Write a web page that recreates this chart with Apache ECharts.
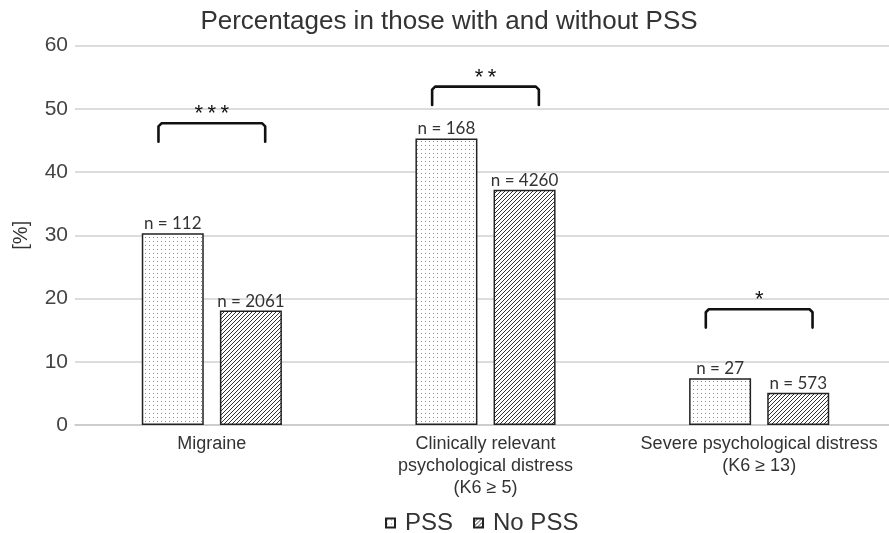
<!DOCTYPE html>
<html><head><meta charset="utf-8">
<script src="https://cdn.jsdelivr.net/npm/echarts@6/dist/echarts.min.js"></script>
<style>html,body{margin:0;padding:0;background:#fff;overflow:hidden}#c{width:900px;height:533px}</style>
</head><body><div id="c"></div>
<script>
const categories = ['Migraine', 'Clinically relevant\npsychological distress\n(K6 ≥ 5)', 'Severe psychological distress\n(K6 ≥ 13)'];
const pssValues = [30.3, 45.3, 7.4];
const noPssValues = [18.1, 37.2, 5.1];
const pssN = [112, 168, 27];
const noPssN = [2061, 4260, 573];
const bracketTops = [47.7, 53.5, 18.3];
const bracketStars = ['***', '**', '*'];
const yTicks = [0, 10, 20, 30, 40, 50, 60];

function dotPattern() {
  const c = document.createElement('canvas'); c.width = 4; c.height = 4;
  const g = c.getContext('2d'); g.fillStyle = '#fff'; g.fillRect(0, 0, 4, 4);
  g.fillStyle = '#8a8a8a'; g.fillRect(1, 1, 1, 1);
  return c;
}
function hatchPattern() {
  const c = document.createElement('canvas'); c.width = 4; c.height = 4;
  const g = c.getContext('2d'); g.fillStyle = '#fff'; g.fillRect(0, 0, 4, 4);
  g.strokeStyle = '#333'; g.lineWidth = 1;
  g.beginPath();
  g.moveTo(-1, 5); g.lineTo(5, -1);
  g.moveTo(-1, 1); g.lineTo(1, -1);
  g.moveTo(3, 5); g.lineTo(5, 3);
  g.stroke();
  return c;
}
const dotFill = { image: dotPattern(), repeat: 'repeat' };
const hatchFill = { image: hatchPattern(), repeat: 'repeat' };
const ARIAL = '"Liberation Sans", Arial, sans-serif';

const chart = echarts.init(document.getElementById('c'), null, { renderer: 'canvas' });
const labelFont = { show: true, position: 'top', distance: 1, color: '#333', fontSize: 17, fontFamily: 'Lato, "Open Sans", sans-serif' };

chart.setOption({
  animation: false,
  backgroundColor: '#fff',
  title: {
    text: 'Percentages in those with and without PSS', left: 444, textAlign: 'center', top: 4,
    textStyle: { fontFamily: ARIAL, fontSize: 26, fontWeight: 'normal', color: '#333' }
  },
  legend: {
    top: 506, left: 380, itemWidth: 9, itemHeight: 9, itemGap: 20, icon: 'rect',
    textStyle: { fontFamily: ARIAL, fontSize: 24, color: '#333', padding: [0, 0, 0, 5] },
    data: ['PSS', 'No PSS']
  },
  grid: { left: 75, width: 821, top: 45.5, bottom: 108 },
  xAxis: {
    type: 'category', data: categories,
    axisLine: { lineStyle: { color: '#c8c8c8', width: 1.5 } },
    axisTick: { show: false },
    axisLabel: { interval: 0, hideOverlap: false, color: '#333', fontSize: 18, lineHeight: 22, margin: 8, fontFamily: ARIAL }
  },
  yAxis: {
    type: 'value', min: 0, max: 60, interval: 10,
    name: '[%]', nameLocation: 'middle', nameGap: 44, nameRotate: 90,
    nameTextStyle: { fontSize: 20, color: '#333', fontFamily: ARIAL },
    axisLine: { show: false }, axisTick: { show: false },
    splitLine: { lineStyle: { color: '#d0d0d0', width: 1.5 } },
    axisLabel: { color: '#444', fontSize: 21, margin: 7, fontFamily: ARIAL,
      formatter: v => yTicks.includes(v) ? String(v) : '' }
  },
  series: [
    {
      name: 'PSS', type: 'bar', data: pssValues, barWidth: 62, barGap: '26%',
      itemStyle: { color: dotFill, borderColor: '#222', borderWidth: 1.5 },
      label: Object.assign({}, labelFont, { formatter: p => 'n = ' + pssN[p.dataIndex] })
    },
    {
      name: 'No PSS', type: 'bar', data: noPssValues, barWidth: 62,
      itemStyle: { color: hatchFill, borderColor: '#222', borderWidth: 1.5 },
      label: Object.assign({}, labelFont, { formatter: p => 'n = ' + noPssN[p.dataIndex] })
    },
    {
      type: 'custom', silent: true, z: 5,
      data: bracketTops.map((t, i) => [i, t]),
      renderItem: function (params, api) {
        const i = api.value(0), top = api.value(1);
        const p = api.coord([i, top]);
        const pb = api.coord([i, top - 2.9]);
        const band = api.size([1, 0])[0];
        const half = band * 0.195;
        const r = 3;
        return {
          type: 'group', children: [
            { type: 'polyline', shape: { points: [[p[0] - half, pb[1]], [p[0] - half, p[1] + r], [p[0] - half + r, p[1]], [p[0] + half - r, p[1]], [p[0] + half, p[1] + r], [p[0] + half, pb[1]]] },
              style: { stroke: '#111', lineWidth: 2.6, fill: null, lineJoin: 'round', lineCap: 'round' } },
            { type: 'text', x: p[0], y: p[1] - 9,
              style: { text: bracketStars[params.dataIndex].split('').join('\u2009'), fontSize: 22, fontFamily: ARIAL, fill: '#111', align: 'center', verticalAlign: 'middle' } }
          ]
        };
      }
    }
  ]
});
</script></body></html>
